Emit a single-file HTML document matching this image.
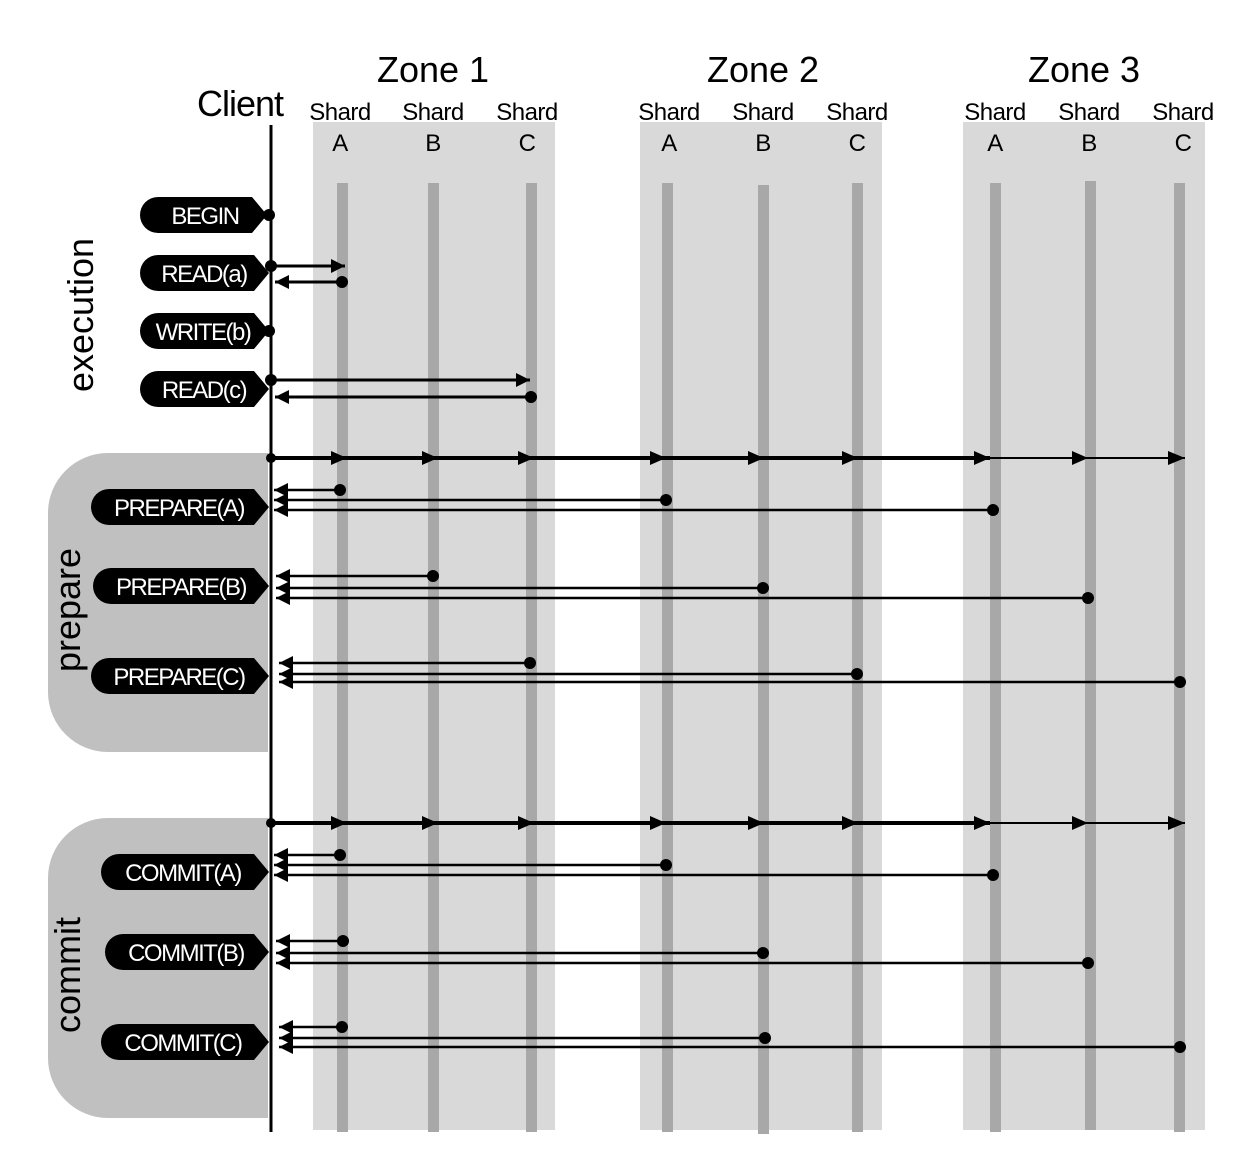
<!DOCTYPE html>
<html><head><meta charset="utf-8"><style>body{margin:0;background:#fff}svg{display:block}text{font-family:"Liberation Sans",sans-serif}</style></head><body>
<svg width="1260" height="1170" viewBox="0 0 1260 1170" xmlns="http://www.w3.org/2000/svg">
<defs>
<marker id="h" viewBox="0 0 10 10" refX="10" refY="5" markerWidth="19" markerHeight="14" orient="auto" markerUnits="userSpaceOnUse"><path d="M0,0L10,5L0,10z"/></marker>
</defs>
<rect x="313" y="122" width="242" height="1008" fill="#d9d9d9"/>
<rect x="640" y="122" width="242" height="1008" fill="#d9d9d9"/>
<rect x="963" y="122" width="242" height="1008" fill="#d9d9d9"/>
<g fill="#a8a8a8">
<rect x="337" y="183" width="11" height="949"/><rect x="428" y="183" width="11" height="949"/><rect x="526" y="183" width="11" height="949"/>
<rect x="662" y="183" width="11" height="949"/><rect x="758" y="185" width="11" height="949"/><rect x="852" y="183" width="11" height="949"/>
<rect x="990" y="183" width="11" height="949"/><rect x="1085" y="181" width="11" height="949"/><rect x="1174" y="183" width="11" height="949"/>
</g>
<path d="M268,453H108A60,60 0 0 0 48,513V692A60,60 0 0 0 108,752H268z" fill="#c0c0c0"/>
<path d="M268,818H108A60,60 0 0 0 48,878V1058A60,60 0 0 0 108,1118H268z" fill="#c0c0c0"/>
<g fill="#000" font-size="36">
<text x="433" y="82" text-anchor="middle">Zone 1</text>
<text x="763" y="82" text-anchor="middle">Zone 2</text>
<text x="1084" y="82" text-anchor="middle">Zone 3</text>
<text x="240" y="116" text-anchor="middle" letter-spacing="-1">Client</text>
</g>
<g font-size="24" text-anchor="middle" letter-spacing="-0.5">
<text x="340" y="120">Shard</text><text x="433" y="120">Shard</text><text x="527" y="120">Shard</text>
<text x="669" y="120">Shard</text><text x="763" y="120">Shard</text><text x="857" y="120">Shard</text>
<text x="995" y="120">Shard</text><text x="1089" y="120">Shard</text><text x="1183" y="120">Shard</text>
<text x="340" y="151">A</text><text x="433" y="151">B</text><text x="527" y="151">C</text>
<text x="669" y="151">A</text><text x="763" y="151">B</text><text x="857" y="151">C</text>
<text x="995" y="151">A</text><text x="1089" y="151">B</text><text x="1183" y="151">C</text>
</g>
<g font-size="36" text-anchor="middle">
<text transform="translate(93,315) rotate(-90)">execution</text>
<text transform="translate(80,610) rotate(-90)">prepare</text>
<text transform="translate(80,975) rotate(-90)">commit</text>
</g>
<line x1="271" y1="125" x2="271" y2="1132" stroke="#000" stroke-width="3"/>
<g fill="#000">
<path d="M158,197H252L267,215L252,233H158A18,18 0 0 1 158,197z"/>
<path d="M158,255H254L269,273L254,291H158A18,18 0 0 1 158,255z"/>
<path d="M158,313H254L269,331L254,349H158A18,18 0 0 1 158,313z"/>
<path d="M158,371H254L269,389L254,407H158A18,18 0 0 1 158,371z"/>
<path d="M109,489H254L269,507L254,525H109A18,18 0 0 1 109,489z"/>
<path d="M111,568H254L269,586L254,604H111A18,18 0 0 1 111,568z"/>
<path d="M109,658H254L269,676L254,694H109A18,18 0 0 1 109,658z"/>
<path d="M119,854H254L269,872L254,890H119A18,18 0 0 1 119,854z"/>
<path d="M123,934H254L269,952L254,970H123A18,18 0 0 1 123,934z"/>
<path d="M119,1024H254L269,1042L254,1060H119A18,18 0 0 1 119,1024z"/>
</g>
<g fill="#fff" font-size="24" text-anchor="middle" letter-spacing="-1.5">
<text x="205" y="224">BEGIN</text>
<text x="204" y="282">READ(a)</text>
<text x="203" y="340">WRITE(b)</text>
<text x="204" y="398">READ(c)</text>
<text x="179" y="516">PREPARE(A)</text>
<text x="181" y="595">PREPARE(B)</text>
<text x="179" y="685">PREPARE(C)</text>
<text x="183" y="881">COMMIT(A)</text>
<text x="186" y="961">COMMIT(B)</text>
<text x="183" y="1051">COMMIT(C)</text>
</g>
<g stroke="#000" stroke-width="3" fill="none">
<line x1="271" y1="266" x2="345" y2="266" marker-end="url(#h)"/>
<line x1="342" y1="282" x2="275" y2="282" marker-end="url(#h)"/>
<line x1="271" y1="380" x2="530" y2="380" marker-end="url(#h)"/>
<line x1="531" y1="397" x2="275" y2="397" marker-end="url(#h)"/>
<line x1="271" y1="458" x2="990" y2="458" stroke-width="4"/>
<line x1="271" y1="823" x2="990" y2="823" stroke-width="4"/>
<line x1="990" y1="458" x2="1185" y2="458" stroke-width="2"/>
<line x1="990" y1="823" x2="1185" y2="823" stroke-width="2"/>
<g stroke-width="2.5">
<line x1="340" y1="490" x2="274" y2="490" marker-end="url(#h)"/>
<line x1="666" y1="500" x2="274" y2="500" marker-end="url(#h)"/>
<line x1="993" y1="510" x2="274" y2="510" marker-end="url(#h)"/>
<line x1="433" y1="576" x2="276" y2="576" marker-end="url(#h)"/>
<line x1="763" y1="588" x2="276" y2="588" marker-end="url(#h)"/>
<line x1="1088" y1="598" x2="276" y2="598" marker-end="url(#h)"/>
<line x1="530" y1="663" x2="279" y2="663" marker-end="url(#h)"/>
<line x1="857" y1="674" x2="279" y2="674" marker-end="url(#h)"/>
<line x1="1180" y1="682" x2="279" y2="682" marker-end="url(#h)"/>
<line x1="340" y1="855" x2="274" y2="855" marker-end="url(#h)"/>
<line x1="666" y1="865" x2="274" y2="865" marker-end="url(#h)"/>
<line x1="993" y1="875" x2="274" y2="875" marker-end="url(#h)"/>
<line x1="343" y1="941" x2="276" y2="941" marker-end="url(#h)"/>
<line x1="763" y1="953" x2="276" y2="953" marker-end="url(#h)"/>
<line x1="1088" y1="963" x2="276" y2="963" marker-end="url(#h)"/>
<line x1="342" y1="1027" x2="279" y2="1027" marker-end="url(#h)"/>
<line x1="765" y1="1038" x2="279" y2="1038" marker-end="url(#h)"/>
<line x1="1180" y1="1047" x2="279" y2="1047" marker-end="url(#h)"/>
</g>
</g>
<g fill="#000">
<path d="M331,451L347,458L331,465zM422,451L438,458L422,465zM518,451L534,458L518,465zM650,451L666,458L650,465zM748,451L764,458L748,465zM842,451L858,458L842,465zM974,451L990,458L974,465zM1072,451L1088,458L1072,465zM1168,451L1185,458L1168,465z"/>
<path d="M331,816L347,823L331,830zM422,816L438,823L422,830zM518,816L534,823L518,830zM650,816L666,823L650,830zM748,816L764,823L748,830zM842,816L858,823L842,830zM974,816L990,823L974,830zM1072,816L1088,823L1072,830zM1168,816L1185,823L1168,830z"/>
<circle cx="269" cy="215" r="6"/><circle cx="271" cy="266" r="6"/><circle cx="269" cy="331" r="6"/><circle cx="271" cy="380" r="6"/>
<circle cx="342" cy="282" r="6"/><circle cx="531" cy="397" r="6"/>
<circle cx="271" cy="458" r="5"/><circle cx="271" cy="823" r="5"/>
<circle cx="340" cy="490" r="6"/><circle cx="666" cy="500" r="6"/><circle cx="993" cy="510" r="6"/>
<circle cx="433" cy="576" r="6"/><circle cx="763" cy="588" r="6"/><circle cx="1088" cy="598" r="6"/>
<circle cx="530" cy="663" r="6"/><circle cx="857" cy="674" r="6"/><circle cx="1180" cy="682" r="6"/>
<circle cx="340" cy="855" r="6"/><circle cx="666" cy="865" r="6"/><circle cx="993" cy="875" r="6"/>
<circle cx="343" cy="941" r="6"/><circle cx="763" cy="953" r="6"/><circle cx="1088" cy="963" r="6"/>
<circle cx="342" cy="1027" r="6"/><circle cx="765" cy="1038" r="6"/><circle cx="1180" cy="1047" r="6"/>
</g>
</svg>
</body></html>
